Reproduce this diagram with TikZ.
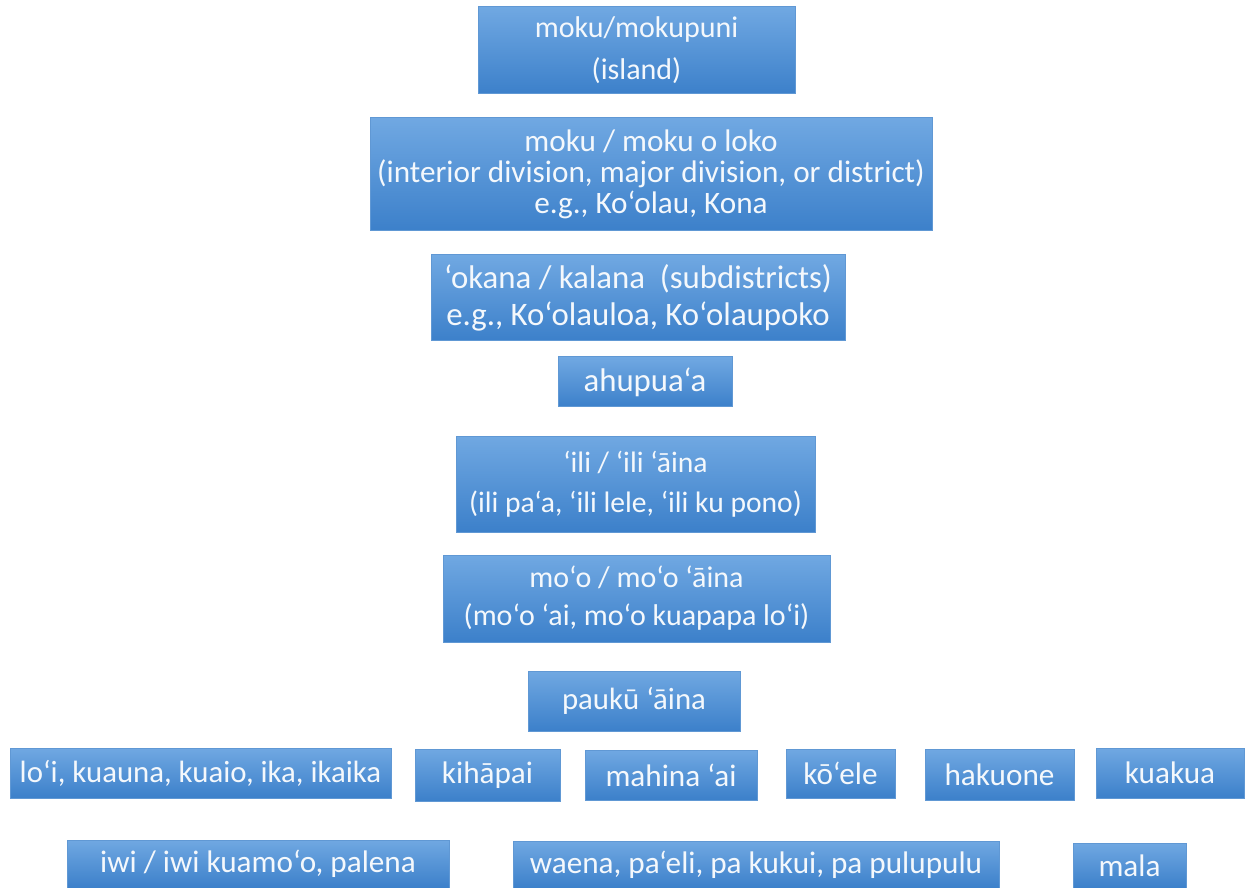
\documentclass[tikz,border=0pt]{standalone}
\usepackage{fontspec}
\setmainfont{Carlito}
\definecolor{boxtop}{RGB}{112,168,226}
\definecolor{boxbot}{RGB}{60,128,202}
\definecolor{boxedge}{RGB}{96,152,212}
\definecolor{txt}{RGB}{244,248,252}
\tikzset{
  box/.style={draw=boxedge, line width=0.5pt, top color=boxtop, bottom color=boxbot,
    text=txt, align=center, inner sep=0pt}
}
\newcommand\mybox[8][15.6]{%
  \node[box, font=\fontsize{#1}{#8}\selectfont,
    minimum width={(#5-#3)*0.5pt}, minimum height={(#6-#4)*0.5pt}]
    (#2) at ({(#3+#5)/2},{(#4+#6)/2}) {#7};}
\begin{document}
\begin{tikzpicture}[x=0.5pt,y=-0.5pt]
\useasboundingbox (0,0) rectangle (1250,888);
\mybox[15]{island}{478}{7}{795}{94}{moku/mokupuni\\(island)}{21}
\mybox[15.6]{moku}{370}{118}{932}{231}{moku / moku o loko\\(interior division, major division, or district)\\e.g., Ko‘olau, Kona}{15.5}
\mybox[16.4]{okana}{431}{255}{845}{341}{‘okana / kalana\ \ (subdistricts)\\e.g., Ko‘olauloa, Ko‘olaupoko}{18.5}
\mybox[16.4]{ahupuaa}{558}{357}{732}{407}{ahupua‘a}{18}
\mybox[14.8]{ili}{456}{436}{815}{532}{‘ili / ‘ili ‘āina\\(ili pa‘a, ‘ili lele, ‘ili ku pono)}{20}
\mybox[15]{moo}{443}{555}{830}{642}{mo‘o / mo‘o ‘āina\\(mo‘o ‘ai, mo‘o kuapapa lo‘i)}{19}
\mybox[15.4]{pauku}{528}{671}{740}{731}{paukū ‘āina}{18}
\mybox[15.4]{loi}{10}{748}{391}{798}{lo‘i, kuauna, kuaio, ika, ikaika}{18}
\mybox[15.6]{kihapai}{415}{749}{560}{801}{kihāpai}{18}
\mybox[15.6]{mahina}{585}{750}{757}{800}{mahina ‘ai}{18}
\mybox[15.6]{koele}{786}{749}{895}{798}{kō‘ele}{18}
\mybox[15.6]{hakuone}{925}{749}{1074}{800}{hakuone}{18}
\mybox[15.6]{kuakua}{1096}{748}{1244}{798}{kuakua}{18}
\mybox[15.6]{iwi}{67}{840}{449}{888}{iwi / iwi kuamo‘o, palena}{18}
\mybox[15.6]{waena}{513}{841}{999}{888}{waena, pa‘eli, pa kukui, pa pulupulu}{18}
\mybox[15.6]{mala}{1073}{843}{1186}{888}{mala}{18}
\end{tikzpicture}
\end{document}
